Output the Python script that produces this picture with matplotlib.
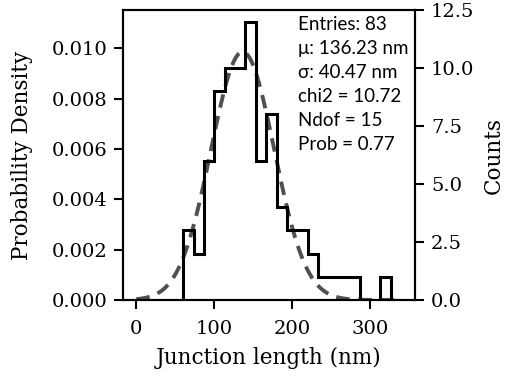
import numpy as np
import matplotlib.pyplot as plt

# Histograma de longitudes de unión (cuentas por bin)
bin_edges = [60.0, 73.3, 86.6, 99.9, 113.2, 126.5, 139.8, 153.1, 166.4, 179.7, 193.0,
             206.3, 219.6, 232.9, 246.2, 259.5, 272.8, 286.1, 299.4, 312.7, 326.0, 339.3]
counts = [3, 2, 6, 9, 10, 10, 12, 6, 8, 4, 3, 3, 2, 1, 1, 1, 1, 0, 0, 1, 0]

# Parámetros del ajuste gaussiano
mu = 136.23
sigma = 40.47
stats_lines = ['Entries: 83', 'μ: 136.23 nm', 'σ: 40.47 nm', 'chi2 = 10.72', 'Ndof = 15', 'Prob = 0.77']

plt.rcParams['font.family'] = 'DejaVu Serif'

fig = plt.figure(figsize=(5.11, 3.78), dpi=100)
ax = fig.add_axes([123 / 511, 1 - 300 / 378, 292 / 511, 290 / 378])
ax2 = ax.twinx()

# Curva gaussiana en el eje de densidad
x = np.linspace(0, 340, 400)
pdf = np.exp(-0.5 * ((x - mu) / sigma) ** 2) / (np.sqrt(2 * np.pi) * sigma)
ax.plot(x, pdf, color='#505050', linestyle=(0, (3.5, 2.2)), linewidth=2.8)

# Histograma escalonado en el eje de cuentas
ax2.stairs(counts, bin_edges, color='black', linewidth=2.2)

ax.set_xlim(-17, 357)
ax.set_ylim(0, 0.01152)
ax2.set_ylim(0, 12.5)
ax.set_xticks([0, 100, 200, 300])
ax.set_yticks([0, 0.002, 0.004, 0.006, 0.008, 0.010])
ax.set_yticklabels(['0.000', '0.002', '0.004', '0.006', '0.008', '0.010'])
ax2.set_yticks([0, 2.5, 5, 7.5, 10, 12.5])
ax2.set_yticklabels(['0.0', '2.5', '5.0', '7.5', '10.0', '12.5'])

for a in (ax, ax2):
    a.tick_params(length=6.5, width=1.5, labelsize=14, pad=5)
    for s in a.spines.values():
        s.set_linewidth(1.5)
ax.tick_params(axis='x', pad=8)

ax.set_xlabel('Junction length (nm)', fontsize=15.5, labelpad=6)
ax.set_ylabel('Probability Density', fontsize=15.5, labelpad=13)
ax2.set_ylabel('Counts', fontsize=15.5, labelpad=6)

ax.text(0.598, 0.978, '\n'.join(stats_lines), transform=ax.transAxes,
        va='top', ha='left', fontsize=13.5, family='Lato', linespacing=1.5)

plt.savefig('out.png', dpi=100)
